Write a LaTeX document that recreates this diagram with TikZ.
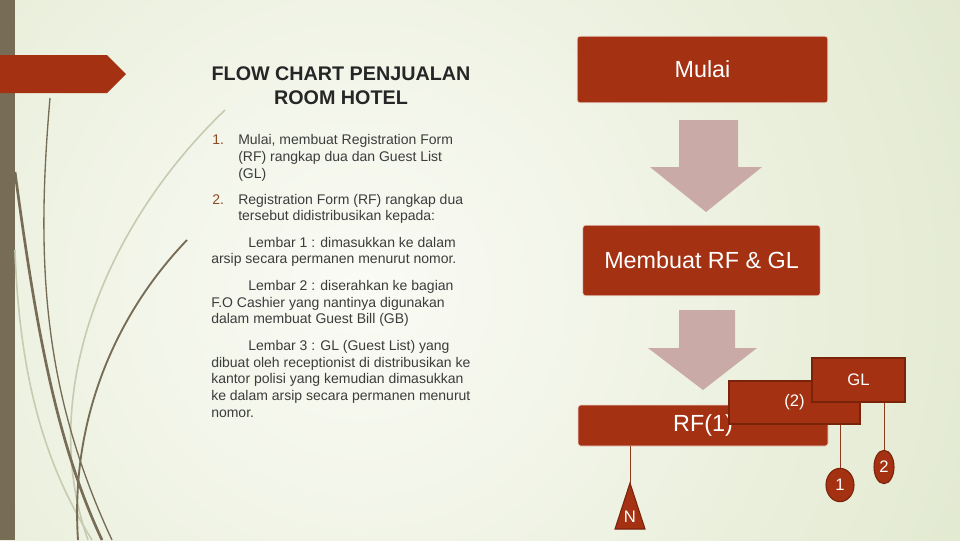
\documentclass[tikz,border=0pt]{standalone}
\usepackage{fontspec}
\setmainfont{Liberation Sans}
\usetikzlibrary{shapes.geometric,calc}

\definecolor{boxred}{HTML}{A33112}
\definecolor{boxedge}{HTML}{7A230B}
\definecolor{arrowpink}{HTML}{C9AAA7}
\definecolor{barbrown}{HTML}{776C55}
\definecolor{bgout}{HTML}{DAE3C3}
\definecolor{bgin}{HTML}{FAFBF5}
\definecolor{textgray}{HTML}{3C3C3C}
\definecolor{numred}{HTML}{8A4A25}
\definecolor{stemred}{HTML}{8E3A1C}
\definecolor{palecurve}{HTML}{C6CBB2}

\begin{document}
\begin{tikzpicture}[x=0.75pt,y=-0.75pt,
  box/.style={fill=boxred, draw=white!80!boxred, line width=0.6pt, rounded corners=2pt,
    text=white, inner sep=0pt, font=\fontsize{17.5}{20}\selectfont},
  copybox/.style={fill=boxred, draw=boxedge, line width=1.1pt, text=white, inner sep=0pt,
    font=\fontsize{12.5}{15}\selectfont},
  bubble/.style={ellipse, fill=boxred, draw=boxedge, line width=0.8pt, text=white, inner sep=0pt,
    font=\fontsize{12.5}{14}\selectfont},
  stem/.style={stemred, line width=0.6pt},
  body/.style={anchor=base west, inner sep=0pt, text=textgray, font=\fontsize{10.5}{12.5}\selectfont},
  num/.style={body, text=numred},
  head/.style={anchor=base, inner sep=0pt, text=black!85, font=\bfseries\fontsize{14.8}{18}\selectfont}]
\useasboundingbox (0,0) rectangle (960,540);

% background
\fill[bgout] (0,0) rectangle (960,540);
\begin{scope}
\clip (0,0) rectangle (960,540);
\shade[inner color=bgin, outer color=bgout] (360,290) circle (900);
\end{scope}
\fill[barbrown] (0,0) rectangle (15,540);

% swooshes
\draw[palecurve, line width=1.2pt] (225,110) .. controls (100,230) and (38,400) .. (88,540);
\draw[palecurve, line width=1.2pt] (15,250) .. controls (20,400) and (55,480) .. (92,540);
\draw[barbrown, line width=1pt] (50,98) .. controls (36,260) and (42,390) .. (112,540);
\draw[barbrown, line width=2pt] (15,172) .. controls (35,320) and (55,440) .. (102,540);
\draw[barbrown, line width=1.4pt] (187,240) .. controls (115,315) and (70,420) .. (78,540);

% red tab
\fill[boxred] (0,55) -- (107,55) -- (126,74) -- (107,93) -- (0,93) -- cycle;

% title and text
\node[head] (title1) at (341,80) {FLOW CHART PENJUALAN};
\node[head] (title2) at (341,104) {ROOM HOTEL};

\node[num] (n1) at (212,144) {1.};
\node[body] (l1) at (238,144) {Mulai, membuat Registration Form};
\node[body] (l2) at (238,161) {(RF) rangkap dua dan Guest List};
\node[body] (l3) at (238,178) {(GL)};
\node[num] (n2) at (212,204) {2.};
\node[body] (l4) at (238,204) {Registration Form (RF) rangkap dua};
\node[body] (l5) at (238,220) {tersebut didistribusikan kepada:};
\node[body] (l6) at (248,247) {Lembar 1 : dimasukkan ke dalam};
\node[body] (l7) at (211,263) {arsip secara permanen menurut nomor.};
\node[body] (l8) at (248,290) {Lembar 2 : diserahkan ke bagian};
\node[body] (l9) at (211,307) {F.O Cashier yang nantinya digunakan};
\node[body] (l10) at (211,323) {dalam membuat Guest Bill (GB)};
\node[body] (l11) at (248,350) {Lembar 3 : GL (Guest List) yang};
\node[body] (l12) at (211,367) {dibuat oleh receptionist di distribusikan ke};
\node[body] (l13) at (211,383) {kantor polisi yang kemudian dimasukkan};
\node[body] (l14) at (211,400) {ke dalam arsip secara permanen menurut};
\node[body] (l15) at (211,417) {nomor.};

% flow
\node[box, minimum width=188pt, minimum height=50pt] (mulai) at (702.5,69.5) {Mulai};
\fill[arrowpink] (679,120) -- (738,120) -- (738,167) -- (762,167) -- (706,212)
  -- (650,167) -- (679,167) -- cycle;
\node[box, minimum width=178pt, minimum height=53pt] (buat) at (701.5,260.5) {Membuat RF \& GL};
\fill[arrowpink] (679,310) -- (735,310) -- (735,348) -- (757,348) -- (703,390)
  -- (648,348) -- (679,348) -- cycle;

\node[box, minimum width=187.5pt, minimum height=30.75pt] (rf) at (703,425.5) {RF(1)};
\node[copybox, minimum width=98pt, minimum height=32pt] (copy) at (794.5,402.5) {(2)};
\node[copybox, minimum width=70pt, minimum height=33pt] (gl) at (858.5,380) {GL};

\coordinate (ntop) at (630,483);
\draw[stem] (ntop) -- (ntop |- rf.south);
\filldraw[fill=boxred, draw=boxedge, line width=0.8pt] (ntop) -- (645,529) -- (615,529) -- cycle;
\node[text=white, font=\fontsize{12.5}{14}\selectfont] (nlab) at (630,517) {N};

\node[bubble, minimum width=21pt, minimum height=25pt] (one) at (840,485) {1};
\draw[stem] (one.north) -- (one.north |- copy.south);
\node[bubble, minimum width=15pt, minimum height=25pt] (two) at (884,467) {2};
\draw[stem] (two.north) -- (two.north |- gl.south);
\end{tikzpicture}
\end{document}
